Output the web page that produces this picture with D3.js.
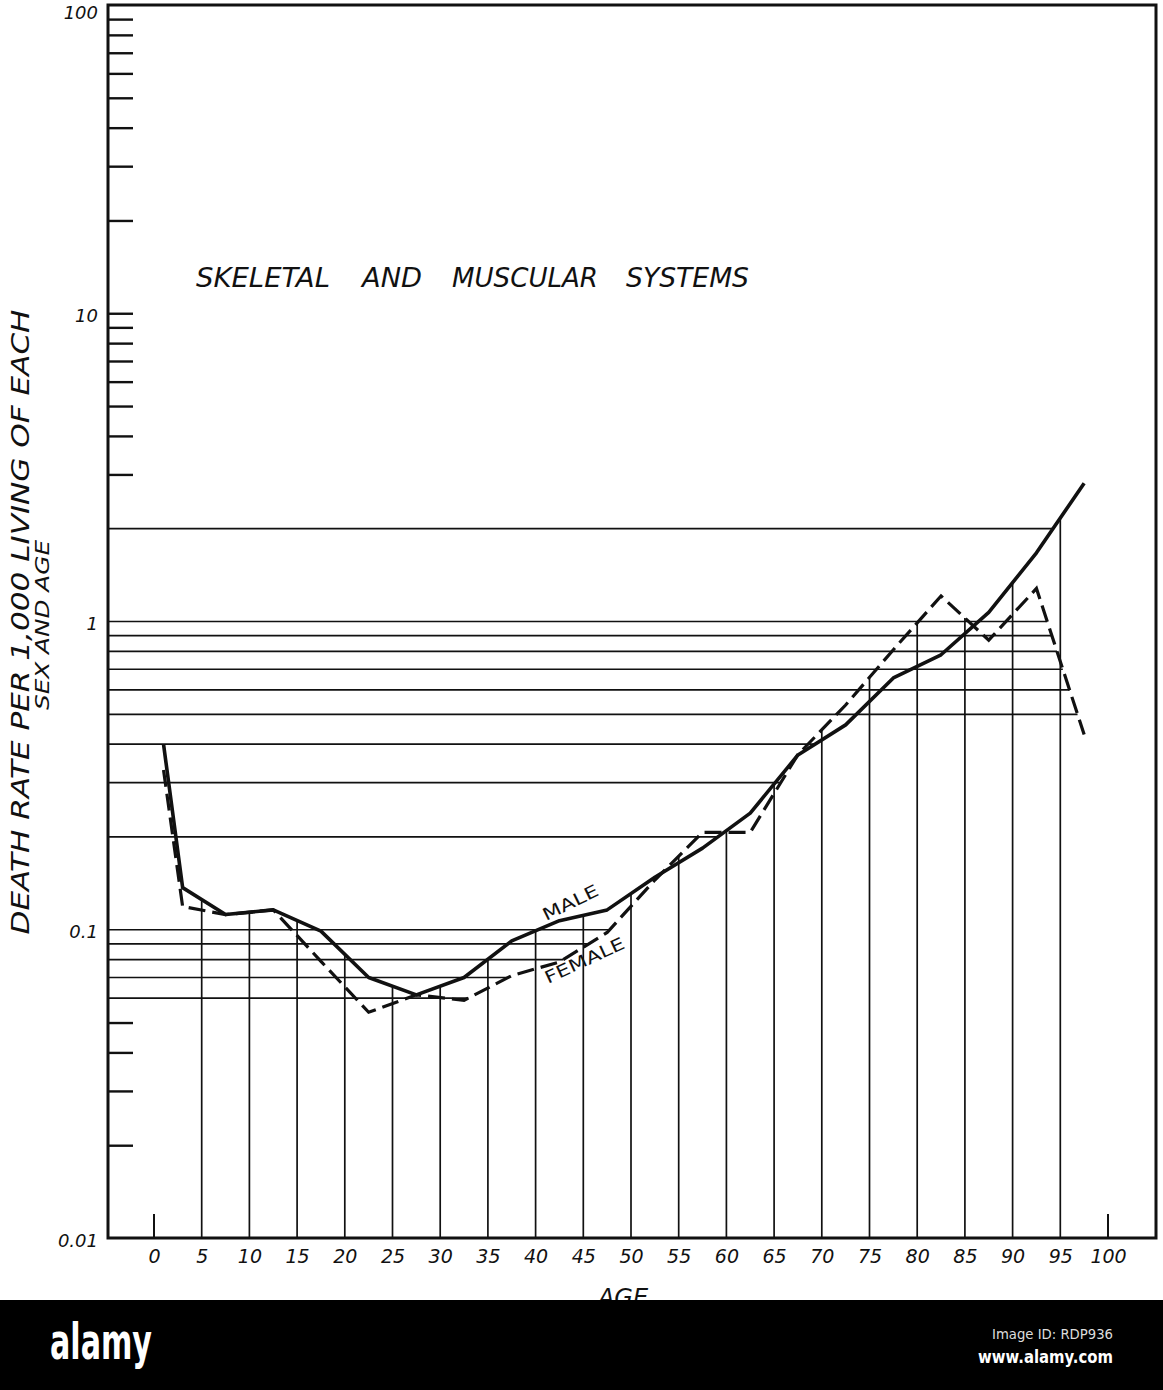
<!DOCTYPE html>
<html>
<head>
<meta charset="utf-8">
<script src="https://cdn.jsdelivr.net/npm/d3@7"></script>
<style>
  body { margin:0; background:#fff; }
  svg text { font-family: "DejaVu Sans", sans-serif; fill:#111; }
</style>
</head>
<body>
<div id="chart"></div>
<script>
// data (death rate per 1000, log scale)
let ages = [1, 3, 7.5, 12.5, 17.5, 22.5, 27.5, 32.5, 37.5, 42.5, 47.5, 52.5, 57.5, 62.5, 67.5, 72.5, 77.5, 82.5, 87.5, 92.5, 97.5]
let male = [0.40, 0.137, 0.112, 0.116, 0.099, 0.070, 0.0615, 0.070, 0.092, 0.107, 0.116, 0.148, 0.184, 0.239, 0.369, 0.462, 0.656, 0.78, 1.07, 1.67, 2.81]
let female = [0.33, 0.119, 0.112, 0.116, 0.079, 0.054, 0.0615, 0.059, 0.071, 0.0786, 0.098, 0.145, 0.207, 0.207, 0.37, 0.536, 0.81, 1.21, 0.87, 1.28, 0.43]

let xTicks = d3.range(0, 101, 5)
let yLabels = [100, 10, 1, 0.1, 0.01]
let gridValues = [2, 1, 0.9, 0.8, 0.7, 0.6, 0.5, 0.4, 0.3, 0.2, 0.1, 0.09, 0.08, 0.07, 0.06]
let minorTicks = [90, 80, 70, 60, 50, 40, 30, 20, 10, 9, 8, 7, 6, 5, 4, 3, 0.05, 0.04, 0.03, 0.02]
let gridAges = d3.range(5, 96, 5)
let titleWords = ["SKELETAL", "AND", "MUSCULAR", "SYSTEMS"]

let svgWidth = 1163
let svgHeight = 1390
let frame = {left:108, top:5, right:1156, bottom:1238}

let svg = d3.select("#chart").append("svg")
  .attr("width", svgWidth)
  .attr("height", svgHeight)

let x = d3.scaleLinear().domain([0, 100]).range([154, 1108])
let y = d3.scaleLog().domain([0.01, 100]).range([frame.bottom, frame.top])

let maleData = ages.map((a, i) => ({age:a, v:male[i]}))
let femaleData = ages.map((a, i) => ({age:a, v:female[i]}))

// value of a series at an age (straight in log space between points)
function valueAt(data, age) {
  for (let i = 0; i < data.length - 1; i++) {
    let a = data[i], b = data[i + 1]
    if (age >= a.age && age <= b.age) {
      let t = (age - a.age) / (b.age - a.age)
      return Math.pow(10, Math.log10(a.v) + t * (Math.log10(b.v) - Math.log10(a.v)))
    }
  }
  return null
}
// rightmost age where a series crosses a value
function lastCrossing(data, v) {
  let best = null
  let lv = Math.log10(v)
  for (let i = 0; i < data.length - 1; i++) {
    let la = Math.log10(data[i].v), lb = Math.log10(data[i + 1].v)
    if ((lv - la) * (lv - lb) <= 0 && la != lb) {
      let t = (lv - la) / (lb - la)
      best = data[i].age + t * (data[i + 1].age - data[i].age)
    }
  }
  return best
}

let g = svg.append("g")

// horizontal grid lines, drawn out to where the curves meet them
g.selectAll(".hgrid")
  .data(gridValues)
  .enter().append("line")
  .attr("class", "hgrid")
  .attr("x1", frame.left)
  .attr("x2", d => x(d3.max([lastCrossing(maleData, d), lastCrossing(femaleData, d)])))
  .attr("y1", d => y(d)).attr("y2", d => y(d))
  .attr("stroke", "#111").attr("stroke-width", 1.7)

// vertical grid lines up to the upper curve
g.selectAll(".vgrid")
  .data(gridAges)
  .enter().append("line")
  .attr("class", "vgrid")
  .attr("x1", d => x(d)).attr("x2", d => x(d))
  .attr("y1", frame.bottom)
  .attr("y2", d => y(Math.max(valueAt(maleData, d), valueAt(femaleData, d))))
  .attr("stroke", "#111").attr("stroke-width", 1.7)

// minor ticks on the left axis (inside)
let minorAxis = d3.axisRight(y).tickValues(minorTicks).tickSize(25).tickFormat("")
let ma = g.append("g").attr("transform", `translate(${frame.left},0)`).call(minorAxis)
ma.select(".domain").remove()
ma.selectAll("line").attr("stroke", "#111").attr("stroke-width", 2.4)

// y labels
let labAxis = d3.axisLeft(y).tickValues(yLabels).tickSize(0).tickPadding(10)
  .tickFormat(d => d >= 1 ? String(d) : (d == 0.1 ? "0.1" : "0.01"))
let la = g.append("g").attr("transform", `translate(${frame.left},0)`).call(labAxis)
la.select(".domain").remove()
la.selectAll("text")
  .attr("font-family", "DejaVu Sans").attr("font-size", 18).attr("font-style", "italic")
  .attr("fill", "#111").attr("dy", d => d == 100 ? "0.75em" : "0.45em")

// x labels
let xAxis = d3.axisBottom(x).tickValues(xTicks).tickSize(0).tickPadding(12)
let xa = g.append("g").attr("transform", `translate(0,${frame.bottom})`).call(xAxis)
xa.select(".domain").remove()
xa.selectAll("text")
  .attr("font-family", "DejaVu Sans").attr("font-size", 19).attr("font-style", "italic")
  .attr("fill", "#111")

// short ticks at 0 and 100
g.selectAll(".endtick")
  .data([0, 100])
  .enter().append("line")
  .attr("x1", d => x(d)).attr("x2", d => x(d))
  .attr("y1", frame.bottom).attr("y2", frame.bottom - 24)
  .attr("stroke", "#111").attr("stroke-width", 2)

// frame
g.append("path")
  .attr("d", `M${frame.left},${frame.top}H${frame.right}V${frame.bottom}H${frame.left}Z`)
  .attr("fill", "none").attr("stroke", "#111").attr("stroke-width", 3)

// curves
let line = d3.line().x(d => x(d.age)).y(d => y(d.v))
g.append("path").datum(maleData)
  .attr("d", line).attr("fill", "none")
  .attr("stroke", "#111").attr("stroke-width", 3.6).attr("stroke-linejoin", "round")
g.append("path").datum(femaleData)
  .attr("d", line).attr("fill", "none")
  .attr("stroke", "#111").attr("stroke-width", 3.2)
  .attr("stroke-dasharray", "17,7")

// series labels
g.append("text").text("MALE")
  .attr("transform", "translate(546,921) rotate(-26)")
  .attr("font-size", 17).attr("textLength", 60).attr("lengthAdjust", "spacingAndGlyphs")
g.append("text").text("FEMALE")
  .attr("transform", "translate(548,984) rotate(-25)")
  .attr("font-size", 17).attr("textLength", 86).attr("lengthAdjust", "spacingAndGlyphs")

// title
let titleX = [196, 362, 452, 626]
let titleW = [134, 60, 146, 123]
g.selectAll(".title")
  .data(titleWords)
  .enter().append("text")
  .text(d => d)
  .attr("x", (d, i) => titleX[i]).attr("y", 287)
  .attr("font-size", 26).attr("font-style", "italic")
  .attr("textLength", (d, i) => titleW[i]).attr("lengthAdjust", "spacingAndGlyphs")

// y axis title
g.append("text").text("DEATH   RATE   PER  1,000  LIVING   OF   EACH")
  .attr("transform", "translate(29,622) rotate(-90)")
  .attr("text-anchor", "middle").attr("font-size", 24).attr("font-style", "italic")
  .attr("textLength", 625).attr("lengthAdjust", "spacingAndGlyphs")
g.append("text").text("SEX  AND  AGE")
  .attr("transform", "translate(49,625) rotate(-90)")
  .attr("text-anchor", "middle").attr("font-size", 19).attr("font-style", "italic")
  .attr("textLength", 170).attr("lengthAdjust", "spacingAndGlyphs")

// x axis title
g.append("text").text("AGE")
  .attr("x", 623).attr("y", 1306)
  .attr("text-anchor", "middle").attr("font-size", 24).attr("font-style", "italic")

// stock-site band at the bottom
svg.append("rect").attr("x", 0).attr("y", 1300).attr("width", svgWidth).attr("height", 90).attr("fill", "#000")
svg.append("text").text("alamy")
  .attr("x", 50).attr("y", 1359)
  .attr("font-size", 50).attr("font-weight", "bold").style("fill", "#fff")
  .attr("textLength", 102).attr("lengthAdjust", "spacingAndGlyphs")
svg.append("text").text("Image ID: RDP936")
  .attr("x", 1113).attr("y", 1339).attr("text-anchor", "end")
  .attr("font-size", 14).style("fill", "#ddd")
  .attr("textLength", 121).attr("lengthAdjust", "spacingAndGlyphs")
svg.append("text").text("www.alamy.com")
  .attr("x", 1113).attr("y", 1363).attr("text-anchor", "end")
  .attr("font-size", 17).attr("font-weight", "bold").style("fill", "#fff")
  .attr("textLength", 135).attr("lengthAdjust", "spacingAndGlyphs")
</script>
</body>
</html>
